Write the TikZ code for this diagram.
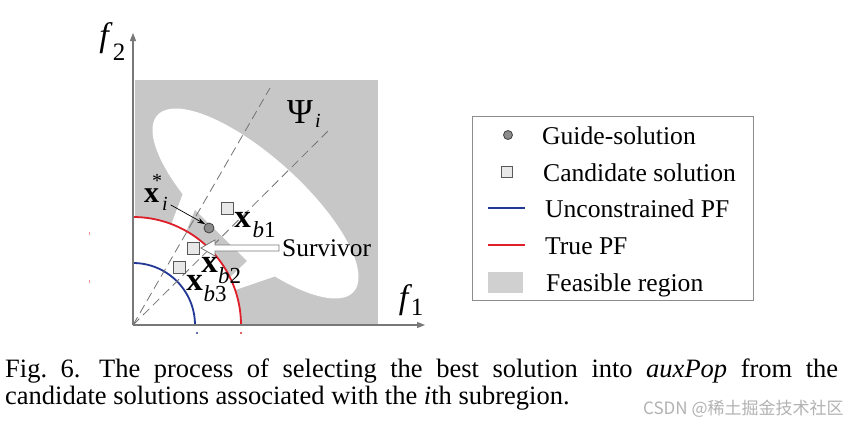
\documentclass[tikz,border=0pt]{standalone}
\usepackage{fontspec}
\setmainfont{Liberation Serif}
\newfontfamily\cjkfont{Noto Sans CJK SC}
\usetikzlibrary{arrows.meta,calc}

\definecolor{feas}{RGB}{199,199,199}
\definecolor{legfeas}{RGB}{208,208,208}
\definecolor{pfblue}{RGB}{35,55,150}
\definecolor{pfred}{RGB}{222,30,40}
\definecolor{axisgray}{RGB}{120,120,120}
\definecolor{dashgray}{RGB}{115,115,115}
\definecolor{markgray}{RGB}{140,140,140}
\definecolor{sqfill}{RGB}{232,232,232}

\begin{document}
\begin{tikzpicture}[x=1pt,y=-1pt,
  axisline/.style={draw=axisgray, line width=1.1pt, -{Triangle[length=8pt,width=6pt]}},
  rayline/.style={draw=dashgray, line width=0.8pt, dash pattern=on 9pt off 5pt},
  redpf/.style={draw=pfred, line width=1.8pt},
  bluepf/.style={draw=pfblue, line width=1.8pt},
  guide/.style={circle, draw=black!75, fill=markgray, line width=0.8pt, minimum size=10pt, inner sep=0pt},
  cand/.style={rectangle, draw=black!65, fill=sqfill, line width=0.8pt, minimum size=12pt, inner sep=0pt},
  bx/.style={font=\fontsize{33}{33}\selectfont\bfseries, inner sep=0pt, anchor=base},
  subt/.style={font=\fontsize{23}{23}\selectfont, inner sep=0pt, anchor=base},
  legtext/.style={font=\fontsize{25.6}{26}\selectfont, anchor=base west, inner sep=0pt},
  captext/.style={font=\fontsize{26.5}{30}\selectfont, anchor=base west, inner sep=0pt},
]
\fill[white] (0,0) rectangle (844,429);
\useasboundingbox (0,0) rectangle (844,429);

% feasible region
\fill[feas] (134.5,80) rectangle (378,325);
\fill[white] plot[variable=\t, domain=0:360, samples=140, smooth]
  ({255.5+132*cos(\t)*0.7431-47*sin(\t)*0.6691},{203.5+132*cos(\t)*0.6691+47*sin(\t)*0.7431}) -- cycle;
\fill[white] (133,325) -- (183.5,192) -- (232,190) -- (282,274) -- cycle;
\fill[feas] (186,232) -- (195,210) -- (247,261) -- (229,278) -- (200,260) -- cycle;
\fill[white] (133,325) -- plot[variable=\t, domain=0:90, samples=40] ({133+108*cos(\t)},{325-108*sin(\t)}) -- cycle;

% Pareto fronts
\draw[bluepf] plot[variable=\t, domain=0:90, samples=40] ({133+62*cos(\t)},{325-62*sin(\t)});
\draw[redpf] plot[variable=\t, domain=0:90, samples=50] ({133+108*cos(\t)},{325-108*sin(\t)});

% coordinates
\coordinate (O) at (133,325);
\coordinate (yend) at (133,33);
\coordinate (xend) at (425,325);
\coordinate (r1end) at (270,88);
\coordinate (r2end) at (328,131);

% subregion rays
\draw[rayline] (O) -- (r1end);
\draw[rayline] (O) -- (r2end);

% axes
\draw[axisline] (O) -- (yend);
\draw[axisline] (O) -- (xend);

% tiny tick remnants
\fill[pfblue!70] (196.3,332) rectangle (198.3,334);
\fill[pfred!70] (240,332) rectangle (242,334);
\fill[pfred!50] (88.5,232) rectangle (90,234.5);
\fill[pfred!50] (88.5,280) rectangle (90,282.5);

% axis labels
\node[font=\fontsize{34}{34}\selectfont\itshape, inner sep=0pt, anchor=base] (f2) at (104,46) {f};
\node[font=\fontsize{25}{25}\selectfont, inner sep=0pt, anchor=base] (f2s) at (119,60) {2};
\node[font=\fontsize{34}{34}\selectfont\itshape, inner sep=0pt, anchor=base] (f1) at (403.5,308) {f};
\node[font=\fontsize{25}{25}\selectfont, inner sep=0pt, anchor=base] (f1s) at (417,315) {1};

% Psi_i
\node[font=\fontsize{35}{35}\selectfont, inner sep=0pt, anchor=base] (psi) at (300,123) {Ψ};
\node[font=\fontsize{20}{20}\selectfont\itshape, inner sep=0pt, anchor=base] (psii) at (318,127) {i};

% solutions
\node[guide] (guide) at (209,228) {};
\node[cand] (cb1) at (227,208) {};
\node[cand] (cb2) at (193,248) {};
\node[cand] (cb3) at (179,267) {};

% labels
\node[bx, font=\fontsize{30}{30}\selectfont\bfseries] (xs) at (151.5,202) {x};
\node[font=\fontsize{20}{20}\selectfont, inner sep=0pt, anchor=base] (xsst) at (157,187.5) {*};
\node[font=\fontsize{20}{20}\selectfont\itshape, inner sep=0pt, anchor=base] (xsi) at (165,210) {i};
\node[bx] (xb1) at (242.5,227) {x};
\node[subt] (xb1s) at (264,237) {\textit{b}1};
\node[bx] (xb2) at (209.5,272) {x};
\node[subt] (xb2s) at (229.5,283) {\textit{b}2};
\node[bx] (xb3) at (194.5,290) {x};
\node[subt] (xb3s) at (215,301) {\textit{b}3};

\draw[black, line width=0.7pt, shorten <=3pt, -{Stealth[length=8pt,width=5pt]}] (xsi.east) -- (guide.north west);

% survivor
\node[font=\fontsize{25.4}{26}\selectfont, inner sep=0pt, anchor=base west] (surv) at (282,256) {Survivor};
\coordinate (stip) at ($(cb2.east)+(1.5,0)$);
\coordinate (sshaft) at (surv.west |- stip);
\filldraw[fill=white, draw=axisgray, line width=0.8pt]
  (stip) -- ($(stip)+(14,-8)$) -- ($(stip)+(14,-3)$) -- ($(sshaft)+(-3,-3)$)
  -- ($(sshaft)+(-3,3)$) -- ($(stip)+(14,3)$) -- ($(stip)+(14,8)$) -- cycle;

% legend
\draw[draw=black!45, line width=0.9pt] (472,116) rectangle (753,300);
\node[guide, minimum size=9pt] (lg1) at (508,135) {};
\node[legtext] (lt1) at (542,144) {Guide-solution};
\node[cand, minimum size=11pt] (lg2) at (507,172) {};
\node[legtext] (lt2) at (543,181) {Candidate solution};
\coordinate (lb1) at (488,208);
\coordinate (lb2) at (525,208);
\draw[bluepf, line width=1.6pt] (lb1) -- (lb2);
\node[legtext] (lt3) at (545,217) {Unconstrained PF};
\coordinate (lr1) at (488,245);
\coordinate (lr2) at (525,245);
\draw[redpf, line width=1.6pt] (lr1) -- (lr2);
\node[legtext] (lt4) at (545,254) {True PF};
\fill[legfeas] (488,272) rectangle (523,293);
\node[legtext] (lt5) at (546,291) {Feasible region};

% caption
\node[captext] (cap1) at (5,377) {\makebox[833pt][s]{Fig.~6.\hspace{0.7em}The process of selecting the best solution into \textit{auxPop} from the}};
\node[captext] (cap2) at (5,404) {candidate solutions associated with the \textit{i}th subregion.};

% watermark
\node[anchor=base west, inner sep=0pt, text=black!30, font=\cjkfont\fontsize{17}{17}\selectfont] (wm) at (643,414) {CSDN @稀土掘金技术社区};
\end{tikzpicture}
\end{document}
